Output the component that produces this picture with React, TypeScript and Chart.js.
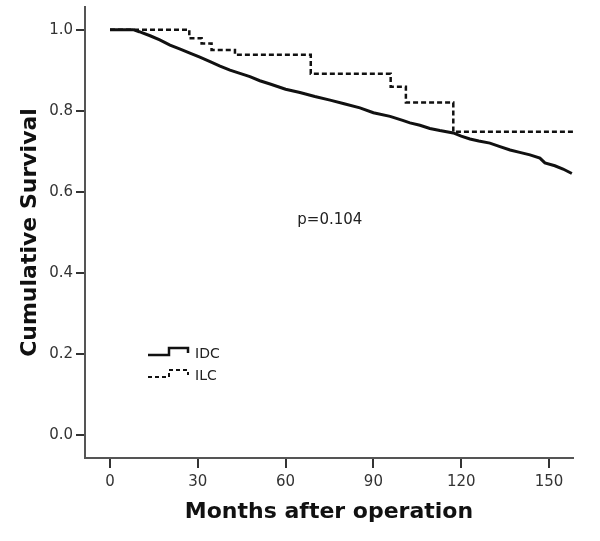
import React, { useEffect, useRef } from 'react';
import { Chart, registerables } from 'chart.js';

Chart.register(...registerables);

// ---- data ----
const seriesNames = ['IDC', 'ILC'];

const idcMonths = [
  0, 7.9, 10, 13.7, 17, 20.5, 24, 27.3, 30.7, 34.2, 37.6, 41, 44.4, 47.8, 51.2, 54.7,
  60, 64.9, 70, 75.2, 80, 85.4, 90, 95.7, 100, 102.5, 105.9, 109.3, 112.7, 117.3, 120,
  123, 126, 129.8, 133, 136.7, 140, 143.5, 146.9, 148.6, 152, 154.8, 157.8,
];
const idcSurvival = [
  1.0, 1.0, 0.995, 0.985, 0.975, 0.962, 0.952, 0.942, 0.932, 0.921, 0.91, 0.9, 0.892, 0.884, 0.874, 0.866,
  0.853, 0.845, 0.835, 0.826, 0.817, 0.807, 0.795, 0.786, 0.776, 0.77, 0.764, 0.756, 0.751, 0.745, 0.737,
  0.73, 0.725, 0.72, 0.712, 0.703, 0.697, 0.691, 0.683, 0.671, 0.664, 0.656, 0.645,
];

const ilcMonths = [0, 27.1, 31.3, 34.7, 42.7, 68.6, 95.9, 101.1, 117.3, 158.2];
const ilcSurvival = [1.0, 0.979, 0.966, 0.95, 0.938, 0.891, 0.859, 0.82, 0.748, 0.748];

const xTickValues = [0, 30, 60, 90, 120, 150];
const yTickValues = [0, 0.2, 0.4, 0.6, 0.8, 1.0];
const xRange = [-8.54, 158.2];
const yRange = [-0.0575, 1.056];

const xTitle = 'Months after operation';
const yTitle = 'Cumulative Survival';
const pValueText = 'p=0.104';
const pValueMonth = 64;
const pValueSurvival = 0.53;

const FONT = '"DejaVu Sans", "Liberation Sans", sans-serif';

const overlayPlugin = {
  id: 'kmOverlay',
  afterDraw(chart: any) {
    const ctx = chart.ctx as CanvasRenderingContext2D;
    const xs = chart.scales.x;
    const ys = chart.scales.y;
    const area = chart.chartArea;
    ctx.save();
    // p-value annotation
    ctx.font = `15px ${FONT}`;
    ctx.fillStyle = '#222';
    ctx.textAlign = 'left';
    ctx.textBaseline = 'middle';
    ctx.fillText(pValueText, xs.getPixelForValue(pValueMonth), ys.getPixelForValue(pValueSurvival));

    // legend with Kaplan-Meier style step symbols
    const lx = area.left + 63;
    const rows = [area.top + 347, area.top + 369];
    seriesNames.forEach((name, i) => {
      const ry = rows[i];
      ctx.beginPath();
      ctx.strokeStyle = '#111';
      ctx.lineWidth = i === 0 ? 2.5 : 2;
      ctx.setLineDash(i === 0 ? [] : [4, 3]);
      ctx.moveTo(lx, ry + 1);
      ctx.lineTo(lx + 21, ry + 1);
      ctx.lineTo(lx + 21, ry - 6);
      ctx.lineTo(lx + 40, ry - 6);
      ctx.lineTo(lx + 40, ry - 1);
      ctx.stroke();
      ctx.setLineDash([]);
      ctx.font = `14px ${FONT}`;
      ctx.fillStyle = '#222';
      ctx.fillText(name, lx + 47, ry);
    });
    ctx.restore();
  },
};

export default function App() {
  const canvasRef = useRef<HTMLCanvasElement | null>(null);

  useEffect(() => {
    document.body.style.margin = '0';
    const canvas = canvasRef.current;
    if (!canvas) return;
    const chart = new Chart(canvas, {
      type: 'line',
      data: {
        datasets: [
          {
            label: seriesNames[0],
            data: idcMonths.map((m, i) => ({ x: m, y: idcSurvival[i] })),
            borderColor: '#111',
            borderWidth: 3,
            pointRadius: 0,
            tension: 0,
            fill: false,
          },
          {
            label: seriesNames[1],
            data: ilcMonths.map((m, i) => ({ x: m, y: ilcSurvival[i] })),
            borderColor: '#111',
            borderWidth: 2.5,
            borderDash: [5, 3],
            stepped: 'before',
            pointRadius: 0,
            fill: false,
          },
        ],
      },
      options: {
        responsive: false,
        animation: false,
        layout: { padding: { left: 0, right: 27, top: 7, bottom: 0 } },
        plugins: { legend: { display: false }, tooltip: { enabled: false } },
        scales: {
          x: {
            type: 'linear',
            min: xRange[0],
            max: xRange[1],
            afterFit(s: any) { s.height = 83; s.paddingLeft = 0; s.paddingRight = 0; },
            afterBuildTicks(s: any) { s.ticks = xTickValues.map((v) => ({ value: v })); },
            grid: { drawOnChartArea: false, drawTicks: true, tickLength: 10, color: '#333', lineWidth: 2 },
            border: { display: true, color: '#555', width: 2 },
            ticks: { padding: 5, color: '#333', font: { family: FONT, size: 15 }, maxRotation: 0, callback: (v: any) => String(v) },
            title: { display: true, text: xTitle, color: '#111', font: { family: FONT, size: 22, weight: 'bold' }, padding: { top: 0, bottom: 16 } },
          },
          y: {
            type: 'linear',
            min: yRange[0],
            max: yRange[1],
            afterFit(s: any) { s.width = 85; s.paddingTop = 0; s.paddingBottom = 0; },
            afterBuildTicks(s: any) { s.ticks = yTickValues.map((v) => ({ value: v })); },
            grid: { drawOnChartArea: false, drawTicks: true, tickLength: 9, color: '#333', lineWidth: 2 },
            border: { display: true, color: '#555', width: 2 },
            ticks: { padding: 3, color: '#333', font: { family: FONT, size: 15 }, callback: (v: any) => Number(v).toFixed(1) },
            title: { display: true, text: yTitle, color: '#111', font: { family: FONT, size: 22, weight: 'bold' }, padding: { top: 17, bottom: 0 } },
          },
        },
      },
      plugins: [overlayPlugin],
    } as any);
    return () => chart.destroy();
  }, []);

  return (
    <div style={{ width: 600, height: 541, background: '#fff' }}>
      <canvas ref={canvasRef} width={600} height={541} style={{ display: 'block' }} />
    </div>
  );
}
